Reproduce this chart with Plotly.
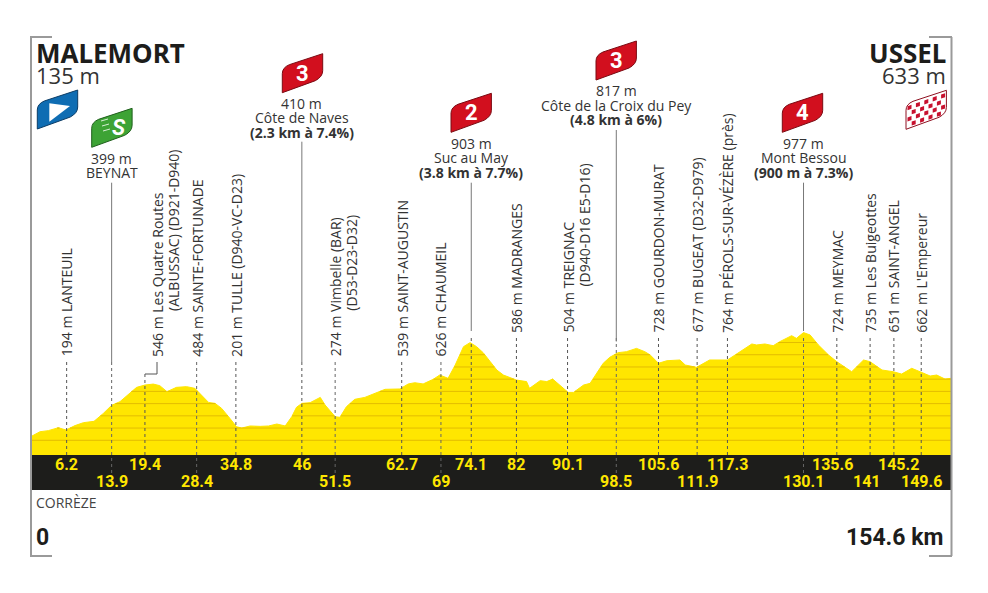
import numpy as np
import plotly.graph_objects as go

# Stage profile (km, metres)
profile_km = [0, 1.35, 2.75, 4.43, 5.72, 7.23, 8.64, 10.43, 12.0, 13.4, 14.8, 16.5, 17.6, 19.0, 20.4, 21.5, 22.7, 24.3,
              26.0, 27.4, 28.5, 29.7, 30.8, 31.9, 33.3, 34.4, 35.3, 36.7, 38.4, 39.8, 41.2, 42.6, 43.7, 44.5, 45.4,
              46.8, 48.5, 49.3, 51.0, 51.8, 52.9, 54.3, 56.0, 57.7, 59.4, 61.9, 63.3, 64.4, 65.8, 67.5, 68.6, 70.0,
              71.2, 72.6, 73.7, 74.8, 75.9, 77.1, 78.2, 79.3, 81.5, 83.2, 83.7, 85.5, 86.6, 87.6, 88.8, 90.2, 91.1,
              92.8, 93.9, 95.0, 96.1, 97.2, 98.6, 100.0, 101.7, 103.1, 104.0, 105.4, 106.8, 109.0, 109.9, 111.8,
              114.0, 117.0, 118.8, 121.1, 121.9, 123.3, 124.7, 125.8, 127.8, 128.6, 129.8, 130.9, 132.3, 134.0,
              135.4, 137.9, 139.9, 141.0, 143.0, 144.9, 146.3, 148.0, 149.4, 151.1, 152.2, 153.6, 154.6]
profile_m = [135, 170, 179, 203, 184, 220, 244, 255, 320, 386, 416, 492, 533, 552, 560, 547, 498, 533,
             539, 525, 471, 410, 402, 361, 279, 211, 200, 217, 214, 217, 233, 217, 293, 370, 402,
             408, 451, 389, 293, 288, 375, 435, 451, 484, 517, 520, 561, 571, 561, 599, 634, 607,
             716, 866, 899, 866, 817, 743, 675, 634, 593, 580, 525, 588, 580, 601, 552, 492, 492,
             552, 566, 648, 730, 779, 817, 825, 852, 825, 798, 730, 751, 757, 716, 697,
             757, 757, 812, 888, 880, 888, 874, 907, 956, 934, 981, 962, 880, 798,
             743, 661, 757, 743, 675, 661, 642, 689, 661, 626, 634, 601, 607]

# Waypoints: where each one sits on the drawn profile, and the km printed for it
point_km = [5.83, 13.4, 19.0, 27.7, 34.3, 45.4, 51.0, 62.2, 68.8, 73.9, 81.5, 90.1, 98.3, 105.4, 111.9, 117.0,
            129.8, 135.4, 141.0, 145.0, 149.6]
point_text = ["6.2", "13.9", "19.4", "28.4", "34.8", "46", "51.5", "62.7", "69", "74.1", "82", "90.1", "98.5",
              "105.6", "111.9", "117.3", "130.1", "135.6", "141", "145.2", "149.6"]
point_row = [0, 1, 0, 1, 0, 0, 1, 0, 1, 0, 0, 0, 1, 0, 1, 0, 1, 0, 1, 0, 1]
point_label = ["194 m LANTEUIL", None, "546 m Les Quatre Routes", "484 m SAINTE-FORTUNADE", "201 m TULLE (D940-VC-D23)",
               None, "274 m Vimbelle (BAR)", "539 m SAINT-AUGUSTIN", "626 m CHAUMEIL", None, "586 m MADRANGES",
               "504 m TREIGNAC", None, "728 m GOURDON-MURAT", "677 m BUGEAT (D32-D979)", "764 m PÉROLS-SUR-VÉZÈRE (près)",
               None, "724 m MEYMAC", "735 m Les Buigeottes", "651 m SAINT-ANGEL", "662 m L'Empereur"]
second_line = {"546 m Les Quatre Routes": "(ALBUSSAC) (D921-D940)", "274 m Vimbelle (BAR)": "(D53-D23-D32)",
               "504 m TREIGNAC": "(D940-D16 E5-D16)"}

# Climbs and the sprint: text stacked above a solid line
climb_km = [13.4, 45.4, 73.9, 98.3, 129.8]
climb_lines = [["399 m", "BEYNAT"],
               ["410 m", "Côte de Naves", "<b>(2.3 km à 7.4%)</b>"],
               ["903 m", "Suc au May", "<b>(3.8 km à 7.7%)</b>"],
               ["817 m", "Côte de la Croix du Pey", "<b>(4.8 km à 6%)</b>"],
               ["977 m", "Mont Bessou", "<b>(900 m à 7.3%)</b>"]]
climb_cat = ["S", "3", "2", "3", "4"]

elev_levels = [100, 200, 300, 400, 500, 600, 700, 800, 900]

YELLOW = "#FFE600"
BLACK = "#1D1D1B"
TEXT = "#333333"
FRAME = "#9A9A9A"
RED = "#D20F1E"
BODY = "Open Sans"
NARROW = "Roboto"

W, H = 988, 593
KM_PX = 5.944   # px per km, km 0 at px 32
M_PX = 0.1222   # px per metre, 0 m at px 452.5


# everything decorative is placed in page pixels
def X(p):
    return p / W


def Y(p):
    return 1 - p / H


def km_to_px(k):
    return 32 + k * KM_PX


fig = go.Figure()

# floor of the yellow area, just under 0 m
base_m = -20
fig.add_trace(go.Scatter(x=[profile_km[0], profile_km[-1]], y=[base_m, base_m], mode="lines",
                         line=dict(width=0), hoverinfo="skip"))
fig.add_trace(go.Scatter(x=profile_km, y=profile_m, mode="lines", fill="tonexty", fillcolor=YELLOW,
                         line=dict(color=YELLOW, width=1), hoverinfo="skip"))

# 100 m contour lines, only where the profile is above them
grid_x, grid_y = [], []
km_arr = np.array(profile_km, dtype=float)
m_arr = np.array(profile_m, dtype=float)
for level in elev_levels:
    start = km_arr[0] if m_arr[0] > level else None
    for i in range(len(km_arr) - 1):
        a, b = m_arr[i], m_arr[i + 1]
        if (a - level) * (b - level) < 0:
            cross = km_arr[i] + (level - a) / (b - a) * (km_arr[i + 1] - km_arr[i])
            if a < level:
                start = cross
            else:
                grid_x += [start, cross, None]
                grid_y += [level, level, None]
    if start is not None and m_arr[-1] > level:
        grid_x += [start, km_arr[-1], None]
        grid_y += [level, level, None]
fig.add_trace(go.Scatter(x=grid_x, y=grid_y, mode="lines", line=dict(color="#E3BC00", width=1), hoverinfo="skip"))

shapes = []
annotations = []


def line(x0, y0, x1, y1, color, width=1, dash=None):
    shapes.append(dict(type="line", xref="paper", yref="paper", x0=X(x0), y0=Y(y0), x1=X(x1), y1=Y(y1),
                       line=dict(color=color, width=width, dash=dash)))


def text(x, y, s, size, font=BODY, color=TEXT, xanchor="center", yanchor="middle", angle=0):
    annotations.append(dict(x=X(x), y=Y(y), xref="paper", yref="paper", text=s, showarrow=False,
                            xanchor=xanchor, yanchor=yanchor, textangle=angle, borderpad=0, borderwidth=0,
                            font=dict(family=font, size=size, color=color)))


def flag_path(xl, yb):
    pts = "M{},{} L{},{} Q{},{} {},{} L{},{} L{},{} Q{},{} {},{} Z"
    return pts.format(X(xl), Y(yb), X(xl), Y(yb - 19), X(xl), Y(yb - 25), X(xl + 7), Y(yb - 28),
                      X(xl + 40.4), Y(yb - 39), X(xl + 40.4), Y(yb - 22), X(xl + 40.4), Y(yb - 16),
                      X(xl + 33), Y(yb - 12))


def flag(xl, yb, color, edge):
    shapes.append(dict(type="path", xref="paper", yref="paper", path=flag_path(xl, yb), fillcolor=color,
                       line=dict(color=edge, width=1)))


# black km band
shapes.append(dict(type="rect", xref="paper", yref="paper", x0=X(32), x1=X(951), y0=Y(490), y1=Y(455),
                   fillcolor=BLACK, line=dict(width=0), layer="above"))

# corner brackets
line(31, 37, 31, 556, FRAME, 2)
line(30, 37, 52, 37, FRAME, 2)
line(30, 556, 52, 556, FRAME, 2)
line(951.5, 37, 951.5, 556, FRAME, 2)
line(929, 37, 952, 37, FRAME, 2)
line(929, 556, 952, 556, FRAME, 2)

# waypoints: dashed drop line, km in the band, vertical label
for km, s, row, lab in zip(point_km, point_text, point_row, point_label):
    px = km_to_px(km)
    dash_top = 362 if px < 450 else 338
    bottom = 356.5 if px < 450 else 332.5
    dash_end = 455
    if row == 1 and s not in ("111.9", "141", "149.6"):
        dash_end = 473
    if s == "19.4":
        dash_top = 374
    line(px, dash_top, px, dash_end, "#666666" if dash_end == 473 else "#555555", 1, "3px,3px")
    nudge = {"135.6": -4, "141": -3, "145.2": 5}.get(s, 0)
    text(px + nudge, 481.7 if row else 464.3, "<b>" + s + "</b>", 16, NARROW, YELLOW)
    if lab is None:
        continue
    lx = px + 12 if s == "19.4" else px
    text(lx, bottom, lab, 14, xanchor="center", yanchor="bottom", angle=-90)
    if lab in second_line:
        text(lx + 16, bottom - 46, second_line[lab], 14, xanchor="center", yanchor="bottom", angle=-90)

# little elbow from 19.4 to its label
line(145, 374, 157, 374, "#555555")
line(157, 374, 157, 362, "#555555")

# solid lines and text of the climbs
solid_top = [182.7, 141.7, 182.7, 130, 182.7]
solid_end = [362, 362, 331, 341.5, 331]
stack_top = [158, 103, 143, 90.5, 143]
for km, rows, top, end, y0 in zip(climb_km, climb_lines, solid_top, solid_end, stack_top):
    px = km_to_px(km)
    line(px, top, px, end, "#777777", 1)
    for j, row in enumerate(rows):
        text(px, y0 + j * 14.6, row, 14)

# flags
flag(37.3, 129, "#0F6DB3", "#0B3C66")
shapes.append(dict(type="path", xref="paper", yref="paper", fillcolor="white", line=dict(width=0),
                   path="M{},{} L{},{} L{},{} Z".format(X(49.3), Y(103.3), X(70), Y(106), X(49.3), Y(121.7))))
flag(91.7, 147.3, "#3DA335", "#1F5F1C")
text(119, 127, "<b><i>S</i></b>", 22, NARROW, "white")
for dy, x0 in zip([0, 5, 10], [101, 102, 103]):
    line(x0, 124 + dy - 3, x0 + 7, 122 + dy - 3, "#D8EFD5", 1)

for xl, yb, cat in zip([282.3, 451, 596, 782.3], [92.7, 132.3, 80, 132.3], climb_cat[1:]):
    flag(xl, yb, RED, "#7A0A12")
    text(xl + 20.4, yb - 19.5, "<b>" + cat + "</b>", 22, NARROW, "white")

# finish flag, white with red checks
flag(906, 129.3, "white", "#8E1020")
check_path = ""
for i in range(9):
    for j in range(4):
        if (i + j) % 2 == 0:
            continue
        x0 = 907.5 + i * 4.2
        y0 = 128.0 - i * 1.45 - j * 5.6 - 1
        check_path += "M{},{} L{},{} L{},{} L{},{} Z ".format(X(x0), Y(y0), X(x0 + 4), Y(y0 - 1.4), X(x0 + 4),
                                                              Y(y0 - 5.4), X(x0), Y(y0 - 4))
shapes.append(dict(type="path", xref="paper", yref="paper", path=check_path, fillcolor="#C8102E", line=dict(width=0)))

# start / finish names
text(36, 52.7, "<b>MALEMORT</b>", 26, "Noto Sans", "#1D1D1B", xanchor="left")
text(36, 75, "135 m", 22, xanchor="left")
text(946, 52.7, "<b>USSEL</b>", 26, "Noto Sans", "#1D1D1B", xanchor="right")
text(946, 75, "633 m", 22, xanchor="right")

text(36, 502.7, "CORRÈZE", 14, xanchor="left", color="#444444")
text(36, 537, "<b>0</b>", 23, NARROW, "#1D1D1B", xanchor="left")
text(943, 537, "<b>154.6 km</b>", 23, NARROW, "#1D1D1B", xanchor="right")

fig.update_layout(
    width=W, height=H, margin=dict(l=0, r=0, t=0, b=0), showlegend=False,
    paper_bgcolor="white", plot_bgcolor="white", shapes=shapes, annotations=annotations,
    xaxis=dict(range=[-32 / KM_PX, (W - 32) / KM_PX], visible=False, fixedrange=True),
    yaxis=dict(range=[(452.5 - H) / M_PX, 452.5 / M_PX], visible=False, fixedrange=True),
)

fig.write_html("out.html", config=dict(displayModeBar=False),
               post_script="document.body.style.margin='0';")
